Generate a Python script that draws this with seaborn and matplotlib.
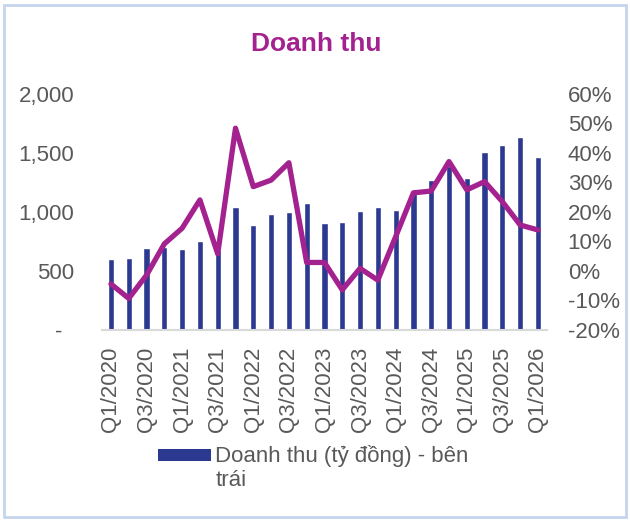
import numpy as np
import matplotlib.pyplot as plt
import seaborn as sns
from matplotlib.patches import Patch, Rectangle

# Doanh thu theo quy (ty dong) va tang truong (%)
quarters = [f"Q{q}/{y}" for y in range(2020, 2026) for q in range(1, 5)] + ["Q1/2026"]
revenue = [602, 610, 695, 705, 690, 755, 680, 1045, 890, 985, 1000, 1075, 905,
           918, 1005, 1040, 1015, 1160, 1275, 1390, 1285, 1508, 1570, 1635, 1463]
growth = [-4.4, -9.3, -1.4, 9.2, 14.5, 24.1, 5.8, 48.4, 28.6, 30.8, 36.7, 2.9, 2.9,
          -6.4, 0.9, -3.1, 11.6, 26.5, 27.1, 37.1, 27.5, 30.3, 23.5, 15.6, 13.9]
left_ticks = [0, 500, 1000, 1500, 2000]
left_labels = ["-  ", "500", "1,000", "1,500", "2,000"]
right_ticks = [-20, -10, 0, 10, 20, 30, 40, 50, 60]
legend_lines = ["Doanh thu (tỷ đồng) - bên", "trái"]

bar_color = "#2B3990"
line_color = "#A3228F"
text_color = "#595959"

sns.set_style("white")
plt.rcParams["font.family"] = ["Liberation Sans", "DejaVu Sans"]

fig = plt.figure(figsize=(6.3, 5.21), dpi=100)
ax = fig.add_axes([0.162, 0.3666, 0.706, 0.453])

sns.barplot(x=quarters, y=revenue, ax=ax, color=bar_color, width=0.35, saturation=1)
ax.set_xlim(-0.5, len(quarters) - 0.5)
ax.set_ylim(0, 2000)
ax.set_yticks(left_ticks)
ax.set_yticklabels(left_labels)
ax.set_xticks(range(0, len(quarters), 2))
ax.set_xticklabels(quarters[::2], rotation=90)
ax.tick_params(axis="y", length=0, pad=20, labelsize=16, labelcolor=text_color)
ax.tick_params(axis="x", length=0, pad=12, labelsize=16, labelcolor=text_color)
ax.set_xlabel("")
ax.set_ylabel("")
for s in ["top", "right", "left"]:
    ax.spines[s].set_visible(False)
ax.spines["bottom"].set_color("#D9D9D9")
ax.spines["bottom"].set_linewidth(1.5)

ax2 = ax.twinx()
sns.lineplot(x=np.arange(len(quarters)), y=growth, ax=ax2, color=line_color,
             linewidth=3.8, legend=False)
ax2.set_ylim(-20, 60)
ax2.set_yticks(right_ticks)
ax2.set_yticklabels([f"{t}%" for t in right_ticks])
ax2.tick_params(axis="y", length=0, pad=15, labelsize=16, labelcolor=text_color)
ax2.set_ylabel("")
for s in ax2.spines.values():
    s.set_visible(False)

fig.text(0.502, 0.915, "Doanh thu", ha="center", va="center", fontsize=19,
         fontweight="bold", color=line_color)

# legend: only the bars, label wraps onto a second line under the text
handle = Patch(facecolor=bar_color, edgecolor="none")
leg = fig.legend([handle], [legend_lines[0]], loc="upper left",
                 bbox_to_anchor=(0.25, 0.145), frameon=False, fontsize=16,
                 handlelength=2.4, handleheight=0.45, handletextpad=0.2,
                 borderpad=0, borderaxespad=0)
leg_text = leg.get_texts()[0]
leg_text.set_color(text_color)
fig.canvas.draw()
bb = leg_text.get_window_extent().transformed(fig.transFigure.inverted())
fig.text(bb.x0, bb.y0 - 0.005, legend_lines[1], ha="left", va="top",
         fontsize=16, color=text_color)

fig.patches.append(Rectangle((0.007, 0.007), 0.986, 0.983, transform=fig.transFigure,
                             fill=False, edgecolor="#C5D5EE", linewidth=2))

fig.savefig("out.png", dpi=100)
